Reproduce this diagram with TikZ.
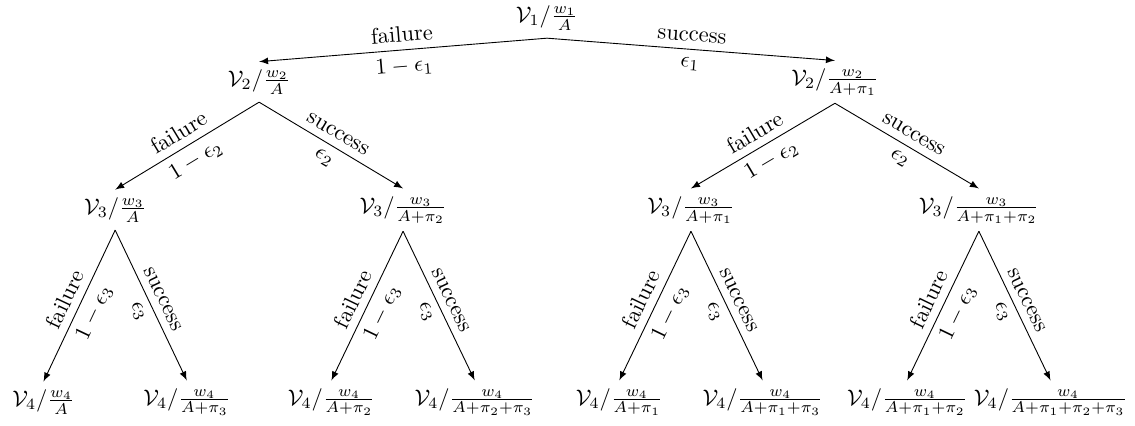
\documentclass[tikz,border=0pt]{standalone}
\usepackage{amsmath}
\usetikzlibrary{arrows,positioning,calc}

\begin{document}
\begin{tikzpicture}[
    outcome/.style={midway,above,sloped},
    chance/.style={midway,below,sloped},
    branch/.style={-latex}]
    \useasboundingbox (-8.55,0.28) rectangle (9.19,-6.375);

    % Root
    \node (v1) at (0, 0) {$\mathcal{V}_1/\frac{w_1}{A}$};

    % Level 2
    \node (v2f) at (-4.5, -1) {$\mathcal{V}_2/\frac{w_2}{A}$};
    \node (v2s) at (4.5, -1) {$\mathcal{V}_2/\frac{w_2}{A+\pi_1}$};
    \draw[branch] (v1.south) -- (v2f.north) node[outcome] {failure} node[chance] {$1-\epsilon_1$};
    \draw[branch] (v1.south) -- (v2s.north) node[outcome] {success} node[chance] {$\epsilon_1$};

    % Level 3
    \node (v3ff) at (-6.75, -3) {$\mathcal{V}_3/\frac{w_3}{A}$};
    \node (v3fs) at (-2.25, -3) {$\mathcal{V}_3/\frac{w_3}{A+\pi_2}$};
    \node (v3sf) at (2.25, -3) {$\mathcal{V}_3/\frac{w_3}{A+\pi_1}$};
    \node (v3ss) at (6.75, -3) {$\mathcal{V}_3/\frac{w_3}{A+\pi_1+\pi_2}$};
    \draw[branch] (v2f.south) -- (v3ff.north) node[outcome] {failure} node[chance] {$1-\epsilon_2$};
    \draw[branch] (v2f.south) -- (v3fs.north) node[outcome] {success} node[chance] {$\epsilon_2$};
    \draw[branch] (v2s.south) -- (v3sf.north) node[outcome] {failure} node[chance] {$1-\epsilon_2$};
    \draw[branch] (v2s.south) -- (v3ss.north) node[outcome] {success} node[chance] {$\epsilon_2$};

    % Level 4
    \node (v4fff) at (-7.87, -6) {$\mathcal{V}_4/\frac{w_4}{A}$};
    \node (v4ffs) at (-5.63, -6) {$\mathcal{V}_4/\frac{w_4}{A+\pi_3}$};
    \node (v4fsf) at (-3.37, -6) {$\mathcal{V}_4/\frac{w_4}{A+\pi_2}$};
    \node (v4fss) at (-1.13, -6) {$\mathcal{V}_4/\frac{w_4}{A+\pi_2+\pi_3}$};
    \node (v4sff) at (1.13, -6) {$\mathcal{V}_4/\frac{w_4}{A+\pi_1}$};
    \node (v4sfs) at (3.37, -6) {$\mathcal{V}_4/\frac{w_4}{A+\pi_1+\pi_3}$};
    \node (v4ssf) at (5.63, -6) {$\mathcal{V}_4/\frac{w_4}{A+\pi_1+\pi_2}$};
    \node (v4sss) at (7.87, -6) {$\mathcal{V}_4/\frac{w_4}{A+\pi_1+\pi_2+\pi_3}$};
    \draw[branch] (v3ff.south) -- (v4fff.north) node[outcome] {failure} node[chance] {$1-\epsilon_3$};
    \draw[branch] (v3ff.south) -- (v4ffs.north) node[outcome] {success} node[chance] {$\epsilon_3$};
    \draw[branch] (v3fs.south) -- (v4fsf.north) node[outcome] {failure} node[chance] {$1-\epsilon_3$};
    \draw[branch] (v3fs.south) -- (v4fss.north) node[outcome] {success} node[chance] {$\epsilon_3$};
    \draw[branch] (v3sf.south) -- (v4sff.north) node[outcome] {failure} node[chance] {$1-\epsilon_3$};
    \draw[branch] (v3sf.south) -- (v4sfs.north) node[outcome] {success} node[chance] {$\epsilon_3$};
    \draw[branch] (v3ss.south) -- (v4ssf.north) node[outcome] {failure} node[chance] {$1-\epsilon_3$};
    \draw[branch] (v3ss.south) -- (v4sss.north) node[outcome] {success} node[chance] {$\epsilon_3$};
\end{tikzpicture}
\end{document}
